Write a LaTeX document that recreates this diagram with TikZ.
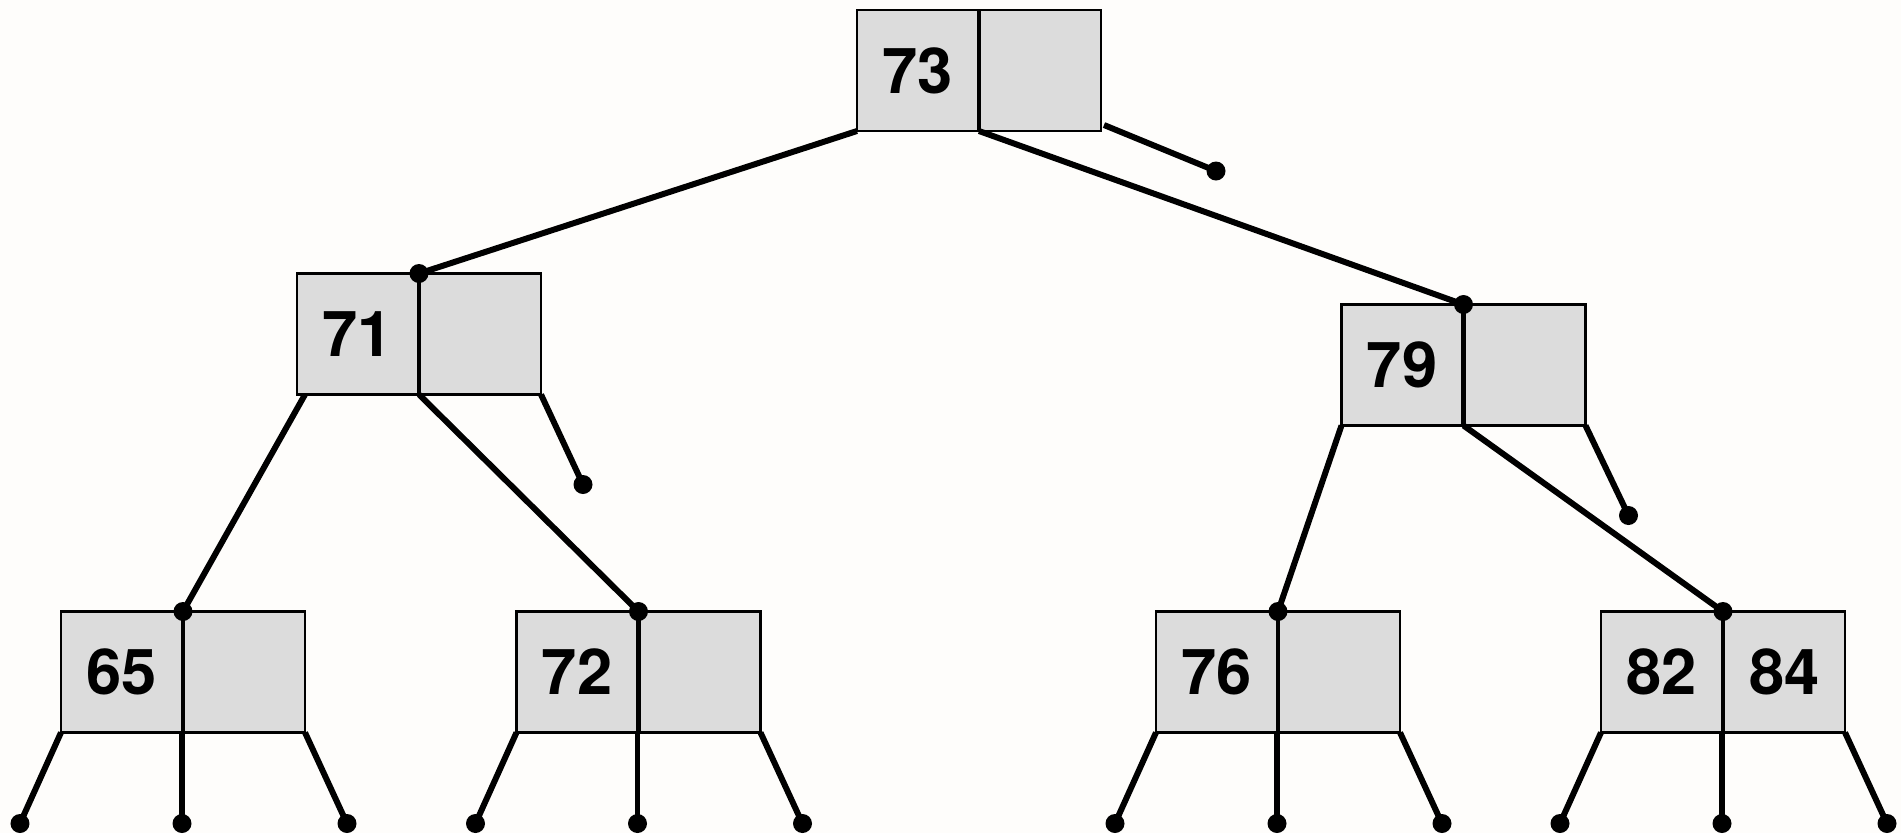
\documentclass[tikz,border=0pt]{standalone}
\usepackage{fontspec}
\setmainfont{TeX Gyre Heros}
\usetikzlibrary{positioning, calc}
\definecolor{cellgray}{RGB}{220, 220, 220}
\definecolor{paper}{RGB}{254, 253, 251}

\begin{document}
\begin{tikzpicture}[
    cell/.style={rectangle, draw=black, fill=cellgray, line width=0.6pt,
                 minimum width=1.21cm, minimum height=1.21cm,
                 inner sep=0pt, outer sep=0pt,
                 font=\fontsize{18}{20}\selectfont\bfseries},
    ptr/.style={line width=1.7pt, black},
    dot/.style={circle, fill=black, inner sep=0pt, minimum size=0.19cm},
]
\fill[paper] (0,0) rectangle (19.01,-8.33);
\useasboundingbox (0,0) rectangle (19.01,-8.33);

%% ── root ────────────────────────────────────────────────────────────────────
\node[cell]                       (l73) at (9.175,-0.705) {73};
\node[cell, right=0.02cm of l73]  (r73)                   {};

%% ── second level ────────────────────────────────────────────────────────────
\node[cell]                       (l71) at (3.575,-3.34)  {71};
\node[cell, right=0.02cm of l71]  (r71)                   {};
\node[cell]                       (l79) at (14.02,-3.65)  {79};
\node[cell, right=0.02cm of l79]  (r79)                   {};

%% ── leaves ──────────────────────────────────────────────────────────────────
\node[cell]                       (l65) at (1.215,-6.72)  {65};
\node[cell, right=0.02cm of l65]  (r65)                   {};
\node[cell]                       (l72) at (5.77,-6.72)   {72};
\node[cell, right=0.02cm of l72]  (r72)                   {};
\node[cell]                       (l76) at (12.165,-6.72) {76};
\node[cell, right=0.02cm of l76]  (r76)                   {};
\node[cell]                       (l82) at (16.615,-6.72) {82};
\node[cell, right=0.02cm of l82]  (r82)                   {84};

% gap between the two cells, top and bottom
\foreach \n in {73,71,79,65,72,76,82} {
  \coordinate (t\n) at ($(l\n.north east)!0.5!(r\n.north west)$);
  \coordinate (b\n) at ($(l\n.south east)!0.5!(r\n.south west)$);
}

%% ── pointers ────────────────────────────────────────────────────────────────
% root
\draw[ptr] (l73.south west) -- (t71);
\draw[ptr] (b73) -- (t79);
\node[dot] (d73) at ($(r73.south east)+(1.15,-0.40)$) {};
\draw[ptr] ($(r73.south east)+(0.03,0.06)$) -- (d73.center);

% 71
\node[dot] (in71) at (t71) {};
\draw[ptr] ($(l71.south west)+(0.08,0)$) -- (t65);
\draw[ptr] (b71) -- (t72);
\node[dot] (d71) at ($(r71.south east)+(0.42,-0.90)$) {};
\draw[ptr] (r71.south east) -- (d71.center);

% 79
\node[dot] (in79) at (t79) {};
\draw[ptr] (l79.south west) -- (t76);
\draw[ptr] (b79) -- (t82);
\node[dot] (d79) at ($(r79.south east)+(0.43,-0.90)$) {};
\draw[ptr] (r79.south east) -- (d79.center);

% leaves
\foreach \n in {65,72,76,82} {
  \node[dot] (in\n) at (t\n) {};
  \node[dot] (pa\n) at ($(l\n.south west)+(-0.41,-0.91)$) {};
  \node[dot] (pb\n) at ($(b\n)+(-0.01,-0.91)$) {};
  \node[dot] (pc\n) at ($(r\n.south east)+(0.42,-0.91)$) {};
  \draw[ptr] (l\n.south west) -- (pa\n.center);
  \draw[ptr] ($(b\n)+(-0.01,0)$) -- (pb\n.center);
  \draw[ptr] (r\n.south east) -- (pc\n.center);
}

\end{tikzpicture}
\end{document}
